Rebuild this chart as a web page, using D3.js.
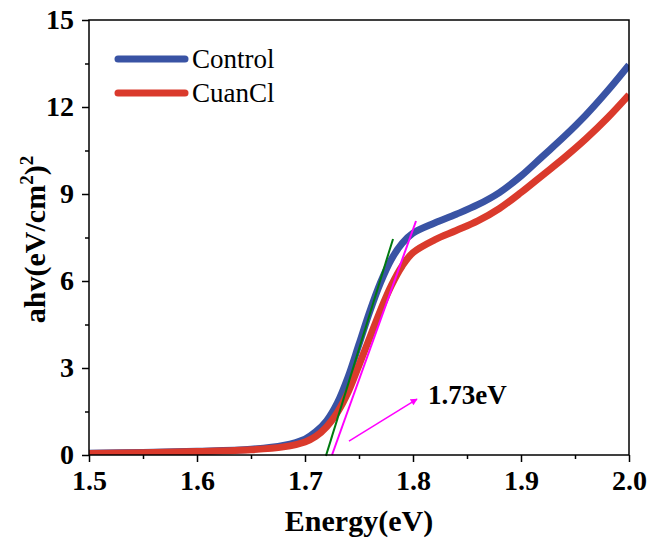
<!DOCTYPE html>
<html>
<head>
<meta charset="utf-8">
<script src="https://cdn.jsdelivr.net/npm/d3@7"></script>
<style>
  body { margin: 0; background: #fff; }
  svg text { font-family: "Liberation Serif", "Times New Roman", Times, "DejaVu Serif", "Noto Serif", serif !important; }
</style>
</head>
<body>
<div id="container"></div>
<script>
// photon energy (eV)
var energy = [1.50, 1.55, 1.60, 1.65, 1.68, 1.70, 1.71, 1.72, 1.73, 1.74, 1.75, 1.76, 1.77,
              1.78, 1.79, 1.80, 1.82, 1.84, 1.86, 1.88, 1.90, 1.92, 1.94, 1.96, 1.98, 2.00];
// (ahv)^2 values
var control = [0.06, 0.09, 0.13, 0.20, 0.33, 0.55, 0.80, 1.18, 1.80, 2.70, 3.82, 4.95, 5.95,
               6.75, 7.30, 7.65, 8.00, 8.30, 8.63, 9.05, 9.62, 10.30, 10.98, 11.72, 12.55, 13.45];
var cuancl = [0.05, 0.08, 0.12, 0.18, 0.28, 0.45, 0.64, 0.97, 1.47, 2.17, 3.10, 4.05, 5.00,
              5.85, 6.52, 6.98, 7.42, 7.74, 8.07, 8.50, 9.05, 9.65, 10.25, 10.90, 11.62, 12.42];
var seriesNames = ["Control", "CuanCl"];
var seriesColors = ["#3953a4", "#da3a2c"];
// tangent lines [x1, y1, x2, y2] in data units
var greenTangent = [1.7194, -0.03, 1.7815, 7.45];
var pinkTangent = [1.725, 0.0, 1.8028, 8.07];
var arrowPts = [1.7407, 0.48, 1.8037, 1.93];
var gapLabel = "1.73eV";
var xTicks = [1.5, 1.6, 1.7, 1.8, 1.9, 2.0];
var yTicks = [0, 3, 6, 9, 12, 15];

var W = 649, H = 544;
var margin = { left: 89, right: 20, top: 20, bottom: 89 };
var serif = "'Liberation Serif', 'Times New Roman', Times, 'DejaVu Serif', serif";

var svg = d3.select("#container")
  .append("svg")
  .attr("width", W)
  .attr("height", H);

var x = d3.scaleLinear().domain([1.5, 2.0]).range([margin.left, W - margin.right]);
var y = d3.scaleLinear().domain([0, 15]).range([H - margin.bottom, margin.top]);

var defs = svg.append("defs");
defs.append("clipPath").attr("id", "clip")
  .append("rect")
  .attr("x", margin.left).attr("y", margin.top)
  .attr("width", W - margin.left - margin.right)
  .attr("height", H - margin.top - margin.bottom);
defs.append("marker")
  .attr("id", "arrowhead")
  .attr("viewBox", "0 0 10 10")
  .attr("refX", 9).attr("refY", 5)
  .attr("markerWidth", 9).attr("markerHeight", 7)
  .attr("markerUnits", "userSpaceOnUse")
  .attr("orient", "auto")
  .append("path")
  .attr("d", "M0,0 L10,5 L0,10 Z")
  .attr("fill", "#ff00ff");

// curves
var line = d3.line()
  .x(function(d) { return x(d[0]); })
  .y(function(d) { return y(d[1]); })
  .curve(d3.curveCatmullRom.alpha(0.5));

var plot = svg.append("g").attr("clip-path", "url(#clip)");
[control, cuancl].forEach(function(vals, i) {
  plot.append("path")
    .datum(energy.map(function(e, j) { return [e, vals[j]]; }))
    .attr("fill", "none")
    .attr("stroke", seriesColors[i])
    .attr("stroke-width", 7)
    .attr("d", line);
});

// tangents
svg.append("line")
  .attr("x1", x(greenTangent[0])).attr("y1", y(greenTangent[1]))
  .attr("x2", x(greenTangent[2])).attr("y2", y(greenTangent[3]))
  .attr("stroke", "#007a10").attr("stroke-width", 2);
svg.append("line")
  .attr("x1", x(pinkTangent[0])).attr("y1", y(pinkTangent[1]))
  .attr("x2", x(pinkTangent[2])).attr("y2", y(pinkTangent[3]))
  .attr("stroke", "#ff00ff").attr("stroke-width", 2);
svg.append("line")
  .attr("x1", x(arrowPts[0])).attr("y1", y(arrowPts[1]))
  .attr("x2", x(arrowPts[2])).attr("y2", y(arrowPts[3]))
  .attr("stroke", "#ff00ff").attr("stroke-width", 1.5)
  .attr("marker-end", "url(#arrowhead)");
svg.append("text")
  .attr("x", 428).attr("y", 404)
  .attr("font-family", serif)
  .attr("font-size", 27).attr("font-weight", "bold")
  .text(gapLabel);

// axes
svg.append("g")
  .attr("transform", "translate(0," + y(0) + ")")
  .call(d3.axisBottom(x).tickValues(xTicks).tickFormat(d3.format(".1f")).tickSize(7).tickPadding(8));
svg.append("g")
  .attr("transform", "translate(0," + y(0) + ")")
  .call(d3.axisBottom(x).tickValues(d3.range(1.55, 2.0, 0.1)).tickFormat("").tickSize(4));
svg.append("g")
  .attr("transform", "translate(" + x(1.5) + ",0)")
  .call(d3.axisLeft(y).tickValues(yTicks).tickSize(7).tickPadding(8));
svg.append("g")
  .attr("transform", "translate(" + x(1.5) + ",0)")
  .call(d3.axisLeft(y).tickValues([1.5, 4.5, 7.5, 10.5, 13.5]).tickFormat("").tickSize(4));

svg.selectAll(".domain").remove();
svg.selectAll(".tick line").attr("stroke", "#000").attr("stroke-width", 1.5);
svg.selectAll(".tick text")
  .attr("font-family", serif)
  .attr("font-size", 28).attr("font-weight", "bold").attr("fill", "#000");

// frame
svg.append("rect")
  .attr("x", margin.left).attr("y", margin.top)
  .attr("width", W - margin.left - margin.right)
  .attr("height", H - margin.top - margin.bottom)
  .attr("fill", "none").attr("stroke", "#000").attr("stroke-width", 1.5);

// axis titles
svg.append("text")
  .attr("x", (x(1.5) + x(2.0)) / 2).attr("y", 531)
  .attr("text-anchor", "middle")
  .attr("font-family", serif)
  .attr("font-size", 30).attr("font-weight", "bold")
  .text("Energy(eV)");

var yTitle = svg.append("text")
  .attr("transform", "translate(45," + (y(7.5) + 2) + ") rotate(-90)")
  .attr("text-anchor", "middle")
  .attr("font-family", serif)
  .attr("font-size", 30).attr("font-weight", "bold");
yTitle.append("tspan").text("ahv(eV/cm");
yTitle.append("tspan").attr("font-size", 19).attr("dy", -12).text("2");
yTitle.append("tspan").attr("dy", 12).text(")");
yTitle.append("tspan").attr("font-size", 19).attr("dy", -12).text("2");

// legend
var legend = svg.append("g").attr("transform", "translate(118,59)");
var item = legend.selectAll(".legendItem")
  .data(seriesNames)
  .enter().append("g")
  .attr("transform", function(d, i) { return "translate(0," + i * 34 + ")"; });
item.append("line")
  .attr("x1", 0).attr("x2", 67)
  .attr("stroke", function(d, i) { return seriesColors[i]; })
  .attr("stroke-width", 7)
  .attr("stroke-linecap", "round");
item.append("text")
  .attr("x", 74).attr("y", 9)
  .attr("font-family", serif)
  .attr("font-size", 27)
  .text(function(d) { return d; });
</script>
</body>
</html>
